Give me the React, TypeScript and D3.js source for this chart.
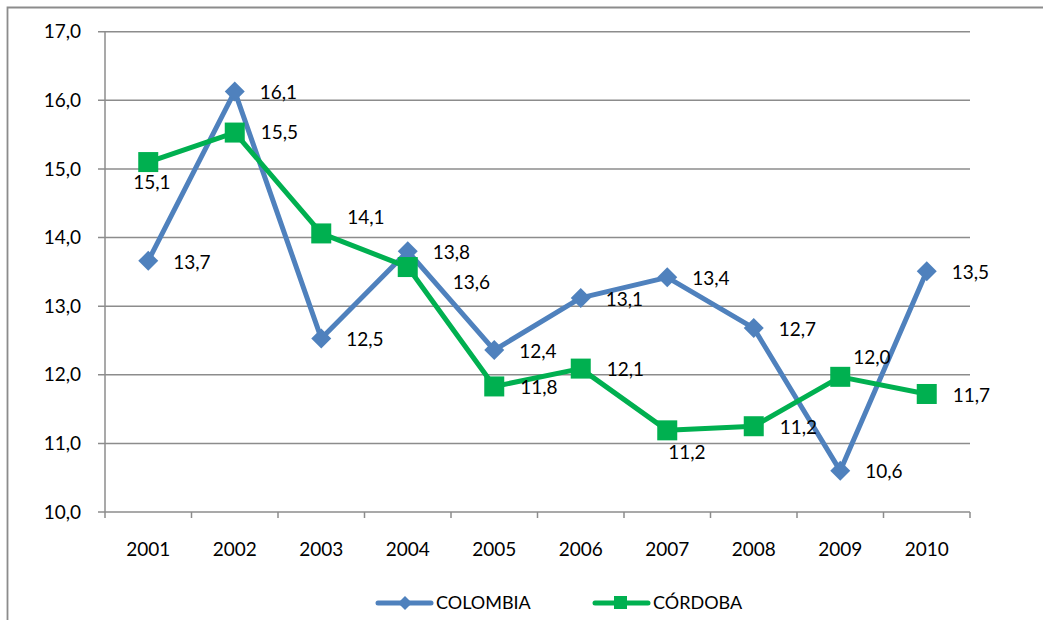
import React from "react";
import * as d3 from "d3";

const years = ["2001", "2002", "2003", "2004", "2005", "2006", "2007", "2008", "2009", "2010"];
const colombia = [13.66, 16.13, 12.53, 13.8, 12.36, 13.12, 13.42, 12.68, 10.6, 13.51];
const cordoba = [15.1, 15.53, 14.06, 13.57, 11.83, 12.09, 11.19, 11.25, 11.97, 11.72];
const colombiaLabels = ["13,7", "16,1", "12,5", "13,8", "12,4", "13,1", "13,4", "12,7", "10,6", "13,5"];
const cordobaLabels = ["15,1", "15,5", "14,1", "13,6", "11,8", "12,1", "11,2", "11,2", "12,0", "11,7"];
const yTicks = [10, 11, 12, 13, 14, 15, 16, 17];
const seriesNames = ["COLOMBIA", "CÓRDOBA"];

// label offsets (dx, dy) relative to point
const colOff = years.map(() => [25, 1]);
const corOff = [[-15, 20], [26, 0], [26, -16], [45, 15], [26, 1], [26, 1], [1, 22], [26, 1], [13, -19], [26, 1]];

const W = 1043, H = 620;
const M = { left: 105, right: 970, top: 31.7, bottom: 512 };
const FONT = "Lato, 'Open Sans', sans-serif";
const BLUE = "#4F81BD";
const GREEN = "#00B050";
const GRID = "#8c8c8c";
const FS = 19;

export default function App() {
  const x = d3.scaleBand<string>().domain(years).range([M.left, M.right]);
  const y = d3.scaleLinear().domain([10, 17]).range([M.bottom, M.top]);
  const cx = (d: string) => (x(d) as number) + x.bandwidth() / 2;
  const line = d3.line<number>().x((_, i) => cx(years[i])).y((v) => y(v));
  const diamond = (px: number, py: number, r: number) => `M${px},${py - r}L${px + r},${py}L${px},${py + r}L${px - r},${py}Z`;

  return (
    <svg width={W} height={H} style={{ position: "absolute", left: 0, top: 0 }} fontFamily={FONT}>
      <rect x={0} y={0} width={W} height={H} fill="#fff" />
      <path d={`M7.5,${H}V7.5H${W}`} fill="none" stroke={GRID} strokeWidth={1.8} />
      {yTicks.map((t) => (
        <g key={t}>
          <line x1={M.left - 7} x2={M.right} y1={y(t)} y2={y(t)} stroke={GRID} strokeWidth={1.5} />
          <text x={81} y={y(t)} dy="0.35em" textAnchor="end" fontSize={FS} fill="#000">
            {d3.format(".1f")(t).replace(".", ",")}
          </text>
        </g>
      ))}
      <line x1={M.left} x2={M.left} y1={M.top} y2={M.bottom} stroke={GRID} strokeWidth={1.5} />
      {years.map((yr, i) => (
        <line key={"t" + i} x1={(x(yr) as number) + x.bandwidth()} x2={(x(yr) as number) + x.bandwidth()} y1={M.bottom} y2={M.bottom + 6} stroke={GRID} strokeWidth={1.5} />
      ))}
      <line x1={M.left} x2={M.left} y1={M.bottom} y2={M.bottom + 6} stroke={GRID} strokeWidth={1.5} />
      {years.map((yr) => (
        <text key={yr} x={cx(yr)} y={549} dy="0.35em" textAnchor="middle" fontSize={FS} fill="#000">{yr}</text>
      ))}
      <path d={line(colombia) || ""} fill="none" stroke={BLUE} strokeWidth={5} strokeLinejoin="round" />
      {colombia.map((v, i) => (
        <path key={"cm" + i} d={diamond(cx(years[i]), y(v), 10)} fill={BLUE} />
      ))}
      <path d={line(cordoba) || ""} fill="none" stroke={GREEN} strokeWidth={5} strokeLinejoin="round" />
      {cordoba.map((v, i) => (
        <rect key={"gm" + i} x={cx(years[i]) - 10} y={y(v) - 10} width={20} height={20} fill={GREEN} />
      ))}
      {colombia.map((v, i) => (
        <text key={"cl" + i} x={cx(years[i]) + colOff[i][0]} y={y(v) + colOff[i][1]} dy="0.35em" fontSize={FS} fill="#000">{colombiaLabels[i]}</text>
      ))}
      {cordoba.map((v, i) => (
        <text key={"gl" + i} x={cx(years[i]) + corOff[i][0]} y={y(v) + corOff[i][1]} dy="0.35em" fontSize={FS} fill="#000">{cordobaLabels[i]}</text>
      ))}
      {/* legend */}
      <g>
        <line x1={378} x2={431} y1={603} y2={603} stroke={BLUE} strokeWidth={5} strokeLinecap="round" />
        <path d={diamond(405, 603, 7)} fill={BLUE} />
        <text x={436} y={603} dy="0.35em" fontSize={18} fill="#000">{seriesNames[0]}</text>
        <line x1={595} x2={648} y1={603} y2={603} stroke={GREEN} strokeWidth={5} strokeLinecap="round" />
        <rect x={614} y={596} width={13} height={13} fill={GREEN} />
        <text x={653} y={603} dy="0.35em" fontSize={18} fill="#000">{seriesNames[1]}</text>
      </g>
    </svg>
  );
}
